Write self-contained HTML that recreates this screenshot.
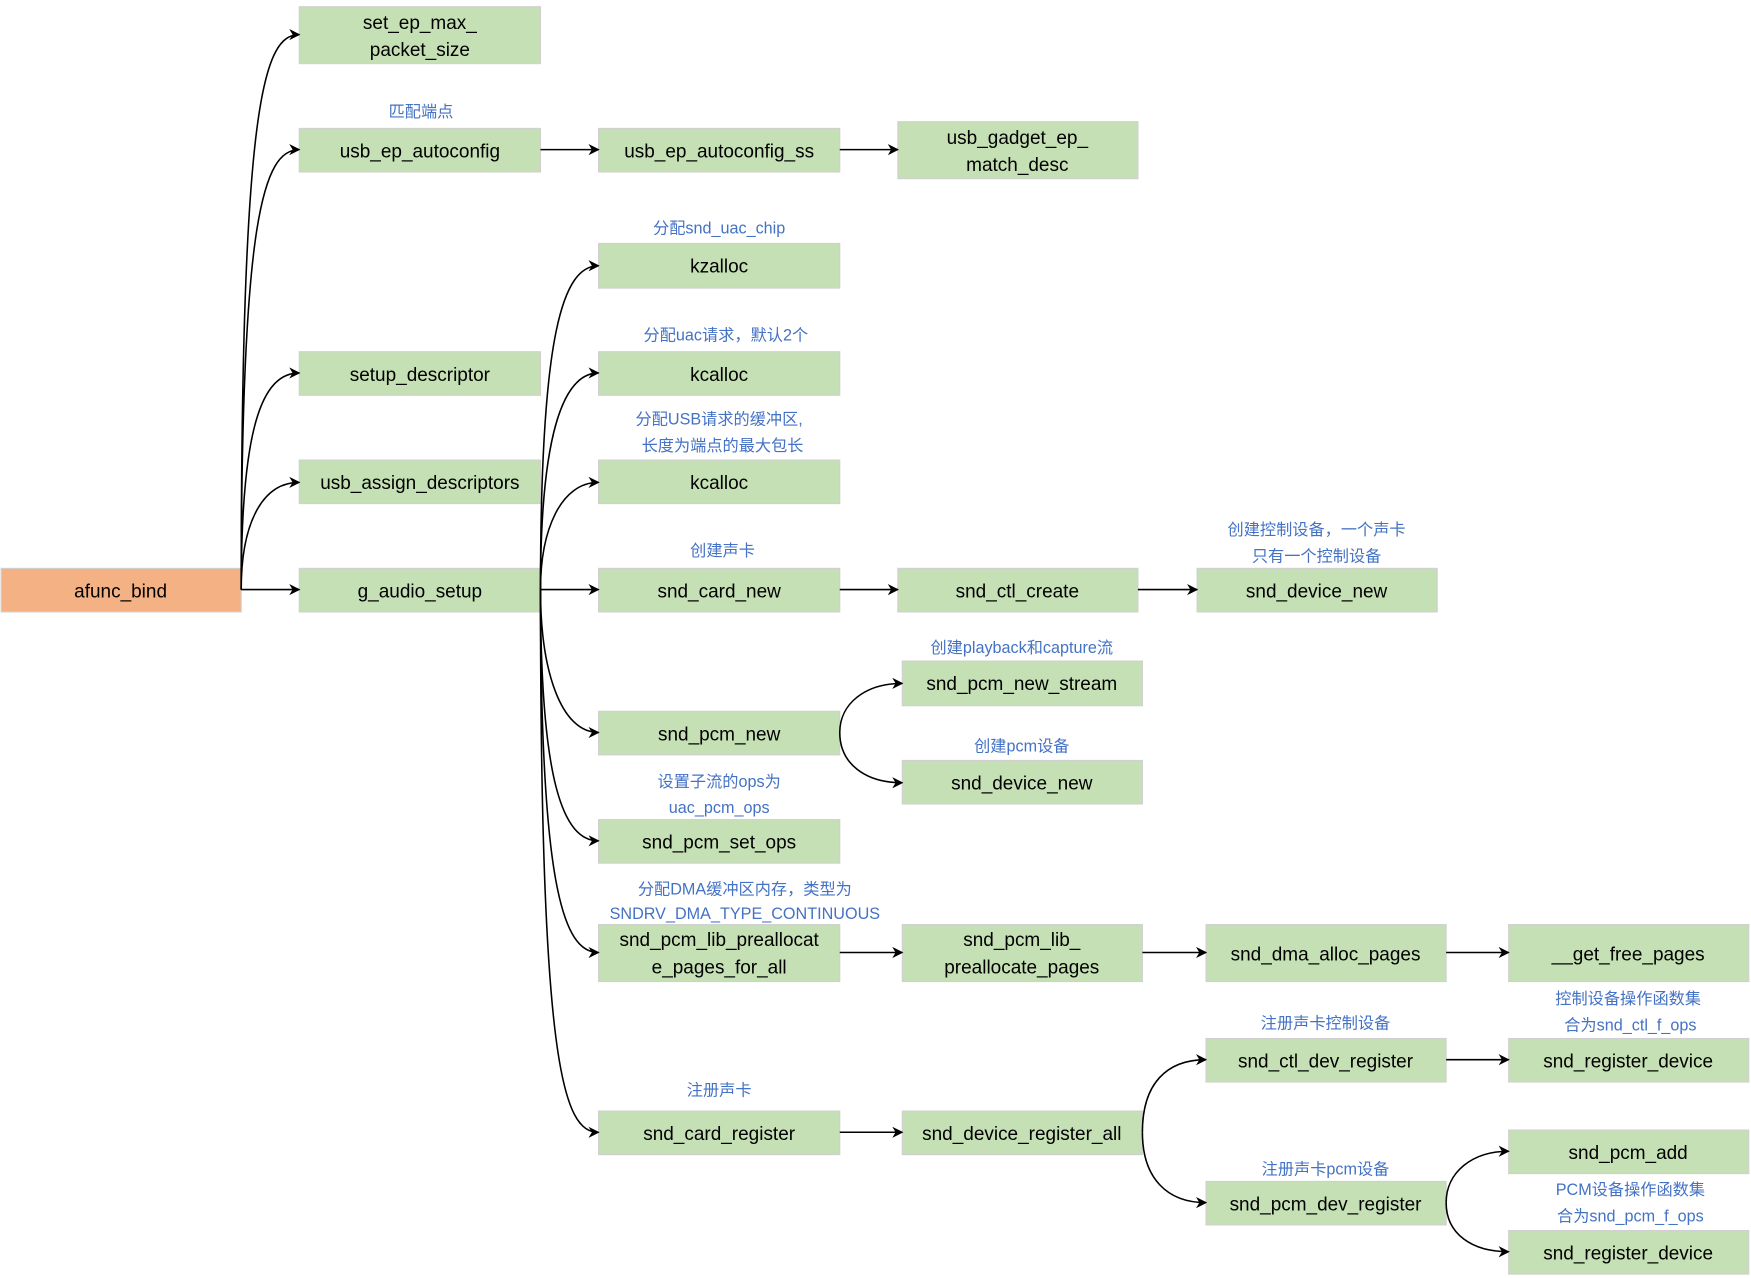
<!DOCTYPE html>
<html><head><meta charset="utf-8"><style>
html,body{margin:0;padding:0;background:#fff;}
svg{display:block;}
.b{fill:#c5e0b4;stroke:#d0d0d0;stroke-width:1;}
.o{fill:#f4b183;stroke:#d0d0d0;stroke-width:1;}
.t{font-family:"Liberation Sans","Noto Sans CJK SC",sans-serif;font-size:17px;fill:#000;text-anchor:middle;}
.l{font-family:"Liberation Sans","Noto Sans CJK SC",sans-serif;font-size:14.5px;fill:#4472c4;text-anchor:middle;}
.c{fill:none;stroke:#000;stroke-width:1.4;}
</style></head><body>
<svg width="1751" height="1278" viewBox="0 0 1568 1144.5" preserveAspectRatio="none" xmlns="http://www.w3.org/2000/svg">
<defs><marker id="a" markerWidth="10" markerHeight="10" refX="9" refY="5" orient="auto" markerUnits="userSpaceOnUse"><path d="M0,0 L10,5 L0,10 L3,5 z" fill="#000"/></marker></defs>

<!-- boxes -->
<rect class="b" x="268" y="6" width="216" height="51"/>
<text class="t" x="376" y="26">set_ep_max_</text><text class="t" x="376" y="50">packet_size</text>
<text class="l" x="377" y="105">匹配端点</text>
<rect class="b" x="268" y="115" width="216" height="39"/><text class="t" x="376" y="141">usb_ep_autoconfig</text>
<rect class="b" x="536" y="115" width="216" height="39"/><text class="t" x="644" y="141">usb_ep_autoconfig_ss</text>
<rect class="b" x="804" y="109" width="215" height="51"/>
<text class="t" x="911" y="129">usb_gadget_ep_</text><text class="t" x="911" y="153">match_desc</text>

<text class="l" x="644" y="209">分配snd_uac_chip</text>
<rect class="b" x="536" y="218" width="216" height="40"/><text class="t" x="644" y="244">kzalloc</text>
<text class="l" x="650" y="305">分配uac请求，默认2个</text>
<rect class="b" x="536" y="315" width="216" height="39"/><text class="t" x="644" y="341">kcalloc</text>
<text class="l" x="644" y="380">分配USB请求的缓冲区,</text>
<text class="l" x="647" y="404">长度为端点的最大包长</text>
<rect class="b" x="536" y="412" width="216" height="39"/><text class="t" x="644" y="438">kcalloc</text>
<rect class="b" x="268" y="315" width="216" height="39"/><text class="t" x="376" y="341">setup_descriptor</text>
<rect class="b" x="268" y="412" width="216" height="39"/><text class="t" x="376" y="438">usb_assign_descriptors</text>

<rect class="o" x="1" y="509" width="215" height="39"/><text class="t" x="108" y="535">afunc_bind</text>
<rect class="b" x="268" y="509" width="216" height="39"/><text class="t" x="376" y="535">g_audio_setup</text>
<text class="l" x="647" y="498">创建声卡</text>
<rect class="b" x="536" y="509" width="216" height="39"/><text class="t" x="644" y="535">snd_card_new</text>
<rect class="b" x="804" y="509" width="215" height="39"/><text class="t" x="911" y="535">snd_ctl_create</text>
<text class="l" x="1179" y="479">创建控制设备，一个声卡</text>
<text class="l" x="1179" y="503">只有一个控制设备</text>
<rect class="b" x="1072" y="509" width="215" height="39"/><text class="t" x="1179" y="535">snd_device_new</text>

<text class="l" x="915" y="585">创建playback和capture流</text>
<rect class="b" x="808" y="592" width="215" height="40"/><text class="t" x="915" y="618">snd_pcm_new_stream</text>
<rect class="b" x="536" y="637" width="216" height="39"/><text class="t" x="644" y="663">snd_pcm_new</text>
<text class="l" x="915" y="673">创建pcm设备</text>
<rect class="b" x="808" y="681" width="215" height="39"/><text class="t" x="915" y="707">snd_device_new</text>
<text class="l" x="644" y="705">设置子流的ops为</text>
<text class="l" x="644" y="728">uac_pcm_ops</text>
<rect class="b" x="536" y="734" width="216" height="39"/><text class="t" x="644" y="760">snd_pcm_set_ops</text>

<text class="l" x="667" y="801">分配DMA缓冲区内存，类型为</text>
<text class="l" x="667" y="823">SNDRV_DMA_TYPE_CONTINUOUS</text>
<rect class="b" x="536" y="828" width="216" height="51"/>
<text class="t" x="644" y="847">snd_pcm_lib_preallocat</text><text class="t" x="644" y="872">e_pages_for_all</text>
<rect class="b" x="808" y="828" width="215" height="51"/>
<text class="t" x="915" y="847">snd_pcm_lib_</text><text class="t" x="915" y="872">preallocate_pages</text>
<rect class="b" x="1080" y="828" width="215" height="51"/><text class="t" x="1187" y="860">snd_dma_alloc_pages</text>
<rect class="b" x="1351" y="828" width="215" height="51"/><text class="t" x="1458" y="860">__get_free_pages</text>

<text class="l" x="1458" y="899">控制设备操作函数集</text>
<text class="l" x="1460" y="923">合为snd_ctl_f_ops</text>
<text class="l" x="1187" y="921">注册声卡控制设备</text>
<rect class="b" x="1080" y="930" width="215" height="39"/><text class="t" x="1187" y="956">snd_ctl_dev_register</text>
<rect class="b" x="1351" y="930" width="215" height="39"/><text class="t" x="1458" y="956">snd_register_device</text>

<text class="l" x="644" y="981">注册声卡</text>
<rect class="b" x="536" y="995" width="216" height="39"/><text class="t" x="644" y="1021">snd_card_register</text>
<rect class="b" x="808" y="995" width="215" height="39"/><text class="t" x="915" y="1021">snd_device_register_all</text>
<rect class="b" x="1351" y="1012" width="215" height="39"/><text class="t" x="1458" y="1038">snd_pcm_add</text>
<text class="l" x="1187" y="1052">注册声卡pcm设备</text>
<rect class="b" x="1080" y="1058" width="215" height="39"/><text class="t" x="1187" y="1084">snd_pcm_dev_register</text>
<text class="l" x="1460" y="1070">PCM设备操作函数集</text>
<text class="l" x="1460" y="1094">合为snd_pcm_f_ops</text>
<rect class="b" x="1351" y="1102" width="215" height="39"/><text class="t" x="1458" y="1128">snd_register_device</text>

<!-- connectors: afunc_bind fan -->
<path class="c" marker-end="url(#a)" d="M216,528 C216,91 236,31 268,31"/>
<path class="c" marker-end="url(#a)" d="M216,528 C216,194 236,134 268,134"/>
<path class="c" marker-end="url(#a)" d="M216,528 C216,384 234,334 268,334"/>
<path class="c" marker-end="url(#a)" d="M216,528 C216,470 234,432 268,432"/>
<path class="c" marker-end="url(#a)" d="M216,528 L268,528"/>
<!-- straight -->
<path class="c" marker-end="url(#a)" d="M484,134 L536,134"/>
<path class="c" marker-end="url(#a)" d="M752,134 L804,134"/>
<path class="c" marker-end="url(#a)" d="M484,528 L536,528"/>
<path class="c" marker-end="url(#a)" d="M752,528 L804,528"/>
<path class="c" marker-end="url(#a)" d="M1019,528 L1072,528"/>
<path class="c" marker-end="url(#a)" d="M752,853 L808,853"/>
<path class="c" marker-end="url(#a)" d="M1023,853 L1080,853"/>
<path class="c" marker-end="url(#a)" d="M1295,853 L1351,853"/>
<path class="c" marker-end="url(#a)" d="M1295,949 L1351,949"/>
<path class="c" marker-end="url(#a)" d="M752,1014 L808,1014"/>
<!-- g_audio_setup fan -->
<path class="c" marker-end="url(#a)" d="M484,528 C484,298 504,238 536,238"/>
<path class="c" marker-end="url(#a)" d="M484,528 C484,390 504,334 536,334"/>
<path class="c" marker-end="url(#a)" d="M484,528 C484,475 502,432 536,432"/>
<path class="c" marker-end="url(#a)" d="M484,528 C484,600 502,656 536,656"/>
<path class="c" marker-end="url(#a)" d="M484,528 C484,700 504,753 536,753"/>
<path class="c" marker-end="url(#a)" d="M484,528 C484,793 504,853 536,853"/>
<path class="c" marker-end="url(#a)" d="M484,528 C484,954 504,1014 536,1014"/>
<!-- snd_pcm_new branch -->
<path class="c" marker-end="url(#a)" d="M752,656 C752,630 775,612 808,612"/>
<path class="c" marker-end="url(#a)" d="M752,656 C752,684 775,701 808,701"/>
<!-- register_all branch -->
<path class="c" marker-end="url(#a)" d="M1023,1014 C1023,970 1045,949 1080,949"/>
<path class="c" marker-end="url(#a)" d="M1023,1014 C1023,1055 1045,1077 1080,1077"/>
<!-- pcm_dev_register branch -->
<path class="c" marker-end="url(#a)" d="M1295,1077 C1295,1050 1318,1031 1351,1031"/>
<path class="c" marker-end="url(#a)" d="M1295,1077 C1295,1105 1318,1121 1351,1121"/>
</svg>
</body></html>
